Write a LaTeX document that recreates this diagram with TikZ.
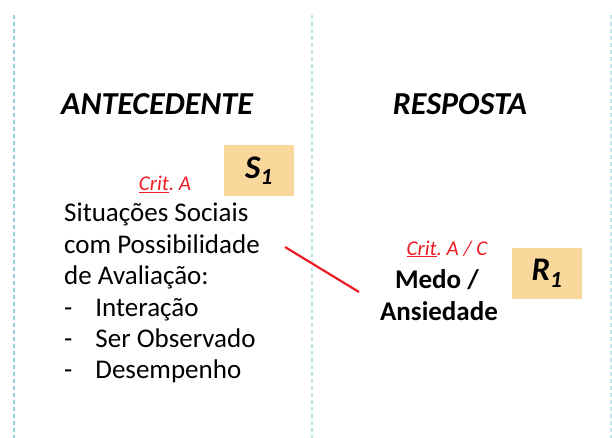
\documentclass[tikz,border=0pt]{standalone}
\usepackage{fontspec}
\setmainfont{Carlito}
\usetikzlibrary{positioning}
\frenchspacing

\definecolor{critred}{RGB}{237,28,36}
\definecolor{boxorange}{RGB}{250,215,155}
\definecolor{sepcyan}{RGB}{150,208,220}

\tikzset{
    heading/.style={font=\fontsize{32}{36}\selectfont\bfseries\itshape, inner sep=0pt},
    bodytext/.style={font=\fontsize{27}{31}\selectfont, inner sep=0pt},
    crittext/.style={font=\fontsize{21}{24}\selectfont\itshape, text=critred, inner sep=0pt},
    tagbox/.style={fill=boxorange, minimum width=70pt, minimum height=51pt, inner sep=0pt,
        font=\fontsize{33}{36}\selectfont\bfseries\itshape},
    separator/.style={sepcyan, line width=1.2pt, dash pattern=on 4pt off 3pt},
    link/.style={critred, line width=2.2pt},
}

\begin{document}
\begin{tikzpicture}[x=1pt, y=-1pt]
    \useasboundingbox (0,0) rectangle (612,438);
    % column separators
    \coordinate (sepl0) at (14,15);
    \coordinate (sepl1) at (14,438);
    \coordinate (sepm0) at (312,15);
    \coordinate (sepm1) at (312,438);
    \coordinate (sepr0) at (611,15);
    \coordinate (sepr1) at (611,438);
    \draw [separator] (sepl0) -- (sepl1);
    \draw [separator, sepcyan!60] (sepm0) -- (sepm1);
    \draw [separator, sepcyan!60] (sepr0) -- (sepr1);
    % headings
    \node [heading, anchor=base] (ante) at (157,115) {ANTECEDENTE};
    \node [heading, anchor=base] (resp) at (460,115) {RESPOSTA};
    % stimulus
    \node [tagbox] (s1) at (259,170.5) {S\textsubscript{1}};
    \node [crittext, anchor=base] (crita) at (165,191) {\underline{Crit}. A};
    \node [bodytext, anchor=base west] (sit1) at (64,222) {Situações Sociais};
    \node [bodytext, anchor=base west] (sit2) at (64,253) {com Possibilidade};
    \node [bodytext, anchor=base west] (sit3) at (64,284) {de Avaliação:};
    \node [bodytext, anchor=base west] (item1) at (64,316) {-\hspace{23pt}Interação};
    \node [bodytext, anchor=base west] (item2) at (64,347) {-\hspace{23pt}Ser Observado};
    \node [bodytext, anchor=base west] (item3) at (64,378) {-\hspace{23pt}Desempenho};
    % response
    \node [crittext, anchor=base] (critac) at (447,255) {\underline{Crit}. A / C};
    \node [bodytext, font=\fontsize{27}{31}\selectfont\bfseries, anchor=base] (medo) at (437,288) {Medo /};
    \node [bodytext, font=\fontsize{27}{31}\selectfont\bfseries, anchor=base] (ansi) at (439,320) {Ansiedade};
    \node [tagbox] (r1) at (547,273.5) {R\textsubscript{1}};
    % link
    \coordinate (linka) at (285,247);
    \coordinate (linkb) at (359,292);
    \draw [link] (linka) -- (linkb);
\end{tikzpicture}
\end{document}
